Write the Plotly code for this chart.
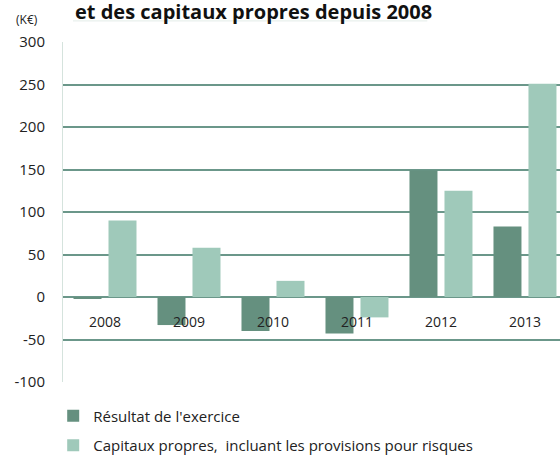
import plotly.graph_objects as go

years = ["2008", "2009", "2010", "2011", "2012", "2013"]
resultat = [-2, -33, -40, -43, 149, 83]
capitaux = [90, 58, 19, -24, 125, 251]
series_names = ["Résultat de l'exercice", "Capitaux propres,  incluant les provisions pour risques"]
title_text = "et des capitaux propres depuis 2008"
unit_text = "(K€)"
y_ticks = [-100, -50, 0, 50, 100, 150, 200, 250, 300]
y_tick_labels = ["-100", "-50", "0", "50", "100", "150", "200", "250", "300"]
label_y = -29

DARK = "#65907F"
LIGHT = "#9FC9BA"
GRID = "#6B978A"
FONT = "Open Sans"

fig = go.Figure()
fig.add_trace(go.Bar(x=years, y=resultat, name=series_names[0], marker=dict(color=DARK, line=dict(width=0)),
                     legendgroup="a"))
fig.add_trace(go.Bar(x=years, y=capitaux, name=series_names[1], marker=dict(color=LIGHT, line=dict(width=0)),
                     legendgroup="b"))

annotations = []
for i, yr in enumerate(years):
    annotations.append(dict(x=i, y=label_y, xref="x", yref="y", text=yr, showarrow=False,
                            font=dict(family=FONT, size=14, color="#222222"), xanchor="center", yanchor="middle"))
annotations.append(dict(x=(73 - 63) / 497, y=1 + 31 / 340, xref="paper", yref="paper",
                        text="<b>" + title_text + "</b>",
                        showarrow=False, xanchor="left", yanchor="middle",
                        font=dict(family=FONT, size=20, color="#111111")))
annotations.append(dict(x=-0.072, y=1.067, xref="paper", yref="paper", text=unit_text, showarrow=False,
                        xanchor="center", yanchor="middle", font=dict(family=FONT, size=12, color="#222222")))

fig.update_layout(
    width=560, height=457,
    margin=dict(l=63, r=0, t=42, b=75, autoexpand=False),
    paper_bgcolor="white", plot_bgcolor="white",
    barmode="group", bargap=0.1667, bargroupgap=0.2,
    showlegend=True,
    legend=dict(orientation="v", xref="container", yref="container", x=0.095, xanchor="left",
                y=0.126, yanchor="top",
                traceorder="grouped", tracegroupgap=7,
                font=dict(family=FONT, size=15, color="#222222"), bgcolor="rgba(0,0,0,0)"),
    annotations=annotations,
    shapes=[dict(type="line", xref="paper", yref="paper", x0=0.02, x1=0.733, y0=1.062, y1=1.062,
                 line=dict(color="#E3ECE8", width=1))],
    font=dict(family=FONT),
)
fig.update_xaxes(type="category", range=[-0.5, 5.417], showticklabels=False, showgrid=False, zeroline=False,
                 showline=False, ticks="")
fig.update_yaxes(range=[-100, 300], tickvals=y_ticks, ticktext=y_tick_labels, showgrid=True,
                 gridcolor=GRID, gridwidth=2,
                 zeroline=True, zerolinecolor=GRID, zerolinewidth=2,
                 showline=True, linecolor="#D5E3DD", linewidth=1,
                 tickfont=dict(family=FONT, size=15, color="#222222"), ticklabelstandoff=14, ticks="")

fig.write_html("out.html", config={"displayModeBar": False},
               post_script="document.body.style.margin='0px';document.body.style.overflow='hidden';")
